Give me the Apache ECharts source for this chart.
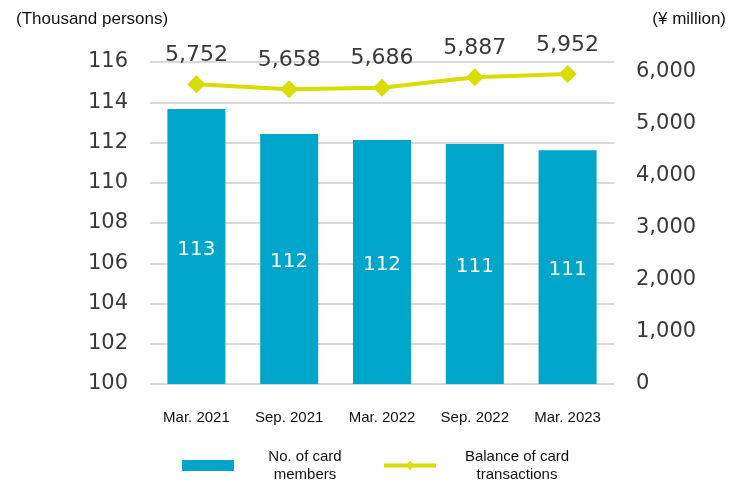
<!DOCTYPE html>
<html>
<head>
<meta charset="utf-8">
<script src="https://cdn.jsdelivr.net/npm/echarts@6/dist/echarts.min.js"></script>
<style>
  html, body { margin: 0; padding: 0; background: #fff; }
  #chart { width: 731px; height: 493px; }
</style>
</head>
<body>
<div id="chart"></div>
<script>
// Period-end categories
const categories = ['Mar. 2021', 'Sep. 2021', 'Mar. 2022', 'Sep. 2022', 'Mar. 2023'];
// Number of card members (thousand persons)
const cardMembers = [113.67, 112.42, 112.12, 111.92, 111.61];
// Balance of card transactions (¥ million)
const transactionBalance = [5752, 5658, 5686, 5887, 5952];
// Axis ranges
const membersAxis = { min: 100, max: 116, interval: 2 };
const balanceAxis = { min: 0, max: 6180, interval: 1000 };
// Series / legend names
const seriesNames = ['No. of card\nmembers', 'Balance of card\ntransactions'];

const BAR_COLOR = '#00A6C9';
const LINE_COLOR = '#D8DC00';
const NUM_FONT = 'DejaVu Sans';
const TXT_FONT = 'Liberation Sans, Arial, sans-serif';

const fmtComma = v => Math.round(v).toLocaleString('en-US');

const chart = echarts.init(document.getElementById('chart'), null, { renderer: 'canvas' });

chart.setOption({
  animation: false,
  backgroundColor: '#ffffff',
  title: [
    {
      text: '(Thousand persons)', left: 16, top: 11, padding: 0,
      textStyle: { fontFamily: TXT_FONT, fontSize: 17, fontWeight: 'normal', color: '#111' }
    },
    {
      text: '(¥ million)', right: 5, top: 11, padding: 0,
      textStyle: { fontFamily: TXT_FONT, fontSize: 17, fontWeight: 'normal', color: '#111' }
    }
  ],
  grid: { left: 150, right: 117, top: 62, bottom: 109 },
  legend: {
    left: 182, top: 449, padding: 0,
    itemWidth: 52, itemHeight: 11, itemGap: 11,
    lineStyle: { width: 4 },
    data: [
      { name: seriesNames[0], icon: 'rect' },
      { name: seriesNames[1] }
    ],
    formatter: name => {
      const key = name === seriesNames[0] ? 'a' : 'b';
      return name.split('\n').map(s => `{${key}|${s}}`).join('\n');
    },
    textStyle: {
      fontFamily: TXT_FONT, fontSize: 15, color: '#111',
      rich: {
        a: { width: 132, align: 'center', fontFamily: TXT_FONT, fontSize: 15, lineHeight: 18, color: '#111' },
        b: { width: 152, align: 'center', fontFamily: TXT_FONT, fontSize: 15, lineHeight: 18, color: '#111' }
      }
    }
  },
  xAxis: {
    type: 'category',
    data: categories,
    axisLine: { show: false },
    axisTick: { show: false },
    axisLabel: { margin: 26, fontFamily: TXT_FONT, fontSize: 15, color: '#111' }
  },
  yAxis: [
    {
      type: 'value',
      min: membersAxis.min, max: membersAxis.max, interval: membersAxis.interval,
      axisLine: { show: false },
      axisTick: { show: false },
      axisLabel: { margin: 22, fontFamily: NUM_FONT, fontSize: 21, color: '#3a3a3a' },
      splitLine: { lineStyle: { color: '#d9d9d9', width: 2 } }
    },
    {
      type: 'value',
      position: 'right',
      min: balanceAxis.min, max: balanceAxis.max, interval: balanceAxis.interval,
      axisLine: { show: false },
      axisTick: { show: false },
      splitLine: { show: false },
      axisLabel: {
        margin: 22, fontFamily: NUM_FONT, fontSize: 21, color: '#3a3a3a',
        showMaxLabel: false,
        formatter: v => (v % balanceAxis.interval === 0 ? fmtComma(v) : '')
      }
    }
  ],
  series: [
    {
      name: seriesNames[0],
      type: 'bar',
      yAxisIndex: 0,
      data: cardMembers,
      barWidth: 58,
      itemStyle: { color: BAR_COLOR },
      label: {
        show: true,
        position: 'inside',
        offset: [0, 3],
        fontFamily: NUM_FONT, fontSize: 20, color: '#ffffff',
        formatter: p => String(Math.floor(p.value))
      },
      z: 2
    },
    {
      name: seriesNames[1],
      type: 'line',
      yAxisIndex: 1,
      data: transactionBalance,
      symbol: 'diamond',
      symbolSize: 18,
      lineStyle: { color: LINE_COLOR, width: 4 },
      itemStyle: { color: LINE_COLOR },
      label: {
        show: true,
        position: 'top',
        distance: 9,
        fontFamily: NUM_FONT, fontSize: 22, color: '#3a3a3a',
        formatter: p => fmtComma(p.value)
      },
      z: 3
    }
  ]
});
</script>
</body>
</html>
